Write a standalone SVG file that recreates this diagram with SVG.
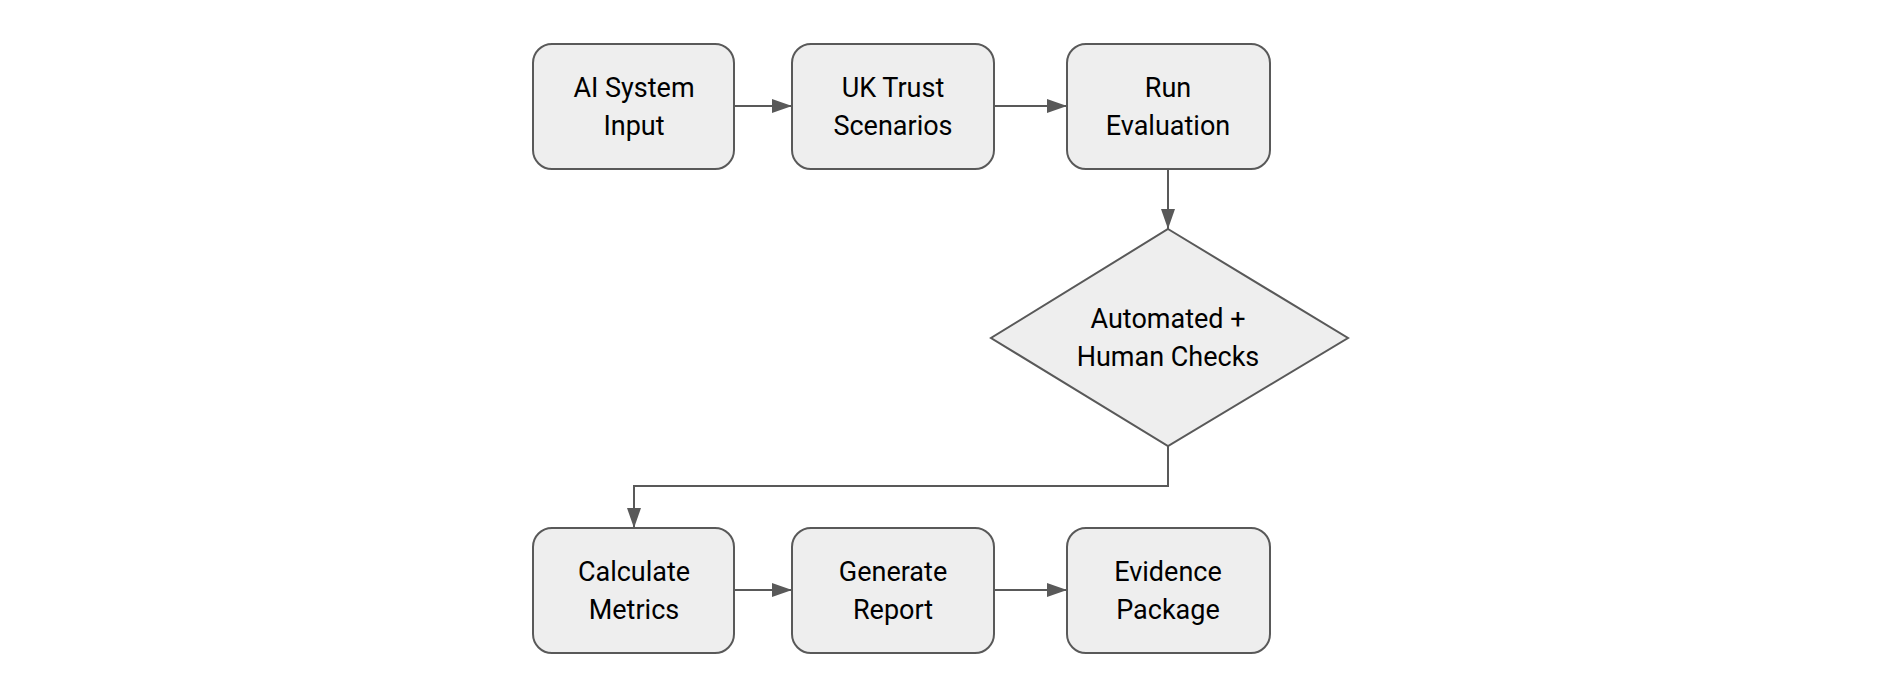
<svg xmlns="http://www.w3.org/2000/svg" width="1878" height="698" viewBox="0 0 1878 698">
<style>
.n{fill:#eeeeee;stroke:#595959;stroke-width:2}
.t{font-family:Roboto,"Liberation Sans",Arial,sans-serif;font-size:27px;fill:#000;text-anchor:middle}
.c{fill:none;stroke:#595959;stroke-width:2}
</style>
<defs><marker id="a" viewBox="0 0 10 10" refX="10" refY="5" markerWidth="10" markerHeight="10" markerUnits="userSpaceOnUse" orient="auto"><path d="M0,0L10,5L0,10z" fill="#595959" transform="scale(1)"/></marker>
<marker id="b" viewBox="0 0 20 14" refX="20" refY="7" markerWidth="20" markerHeight="14" markerUnits="userSpaceOnUse" orient="auto"><path d="M0,0L20,7L0,14z" fill="#595959"/></marker></defs>
<rect width="1878" height="698" fill="#fff"/>
<g id="connectors">
<path class="c" d="M734,106H792" marker-end="url(#b)"/>
<path class="c" d="M994,106H1067" marker-end="url(#b)"/>
<path class="c" d="M1168,169V229" marker-end="url(#b)"/>
<path class="c" d="M1168,446V486H634V528" marker-end="url(#b)"/>
<path class="c" d="M734,590H792" marker-end="url(#b)"/>
<path class="c" d="M994,590H1067" marker-end="url(#b)"/>
</g>
<g id="n1"><rect class="n" x="533" y="44" width="201" height="125" rx="19"/><text class="t" x="634" y="97">AI System</text><text class="t" x="634" y="135">Input</text></g>
<g id="n2"><rect class="n" x="792" y="44" width="202" height="125" rx="19"/><text class="t" x="893" y="97">UK Trust</text><text class="t" x="893" y="135">Scenarios</text></g>
<g id="n3"><rect class="n" x="1067" y="44" width="203" height="125" rx="19"/><text class="t" x="1168" y="97">Run</text><text class="t" x="1168" y="135">Evaluation</text></g>
<g id="n4"><path class="n" d="M1168,229L1348,338L1168,446L991,338z"/><text class="t" x="1168" y="328">Automated +</text><text class="t" x="1168" y="366">Human Checks</text></g>
<g id="n5"><rect class="n" x="533" y="528" width="201" height="125" rx="19"/><text class="t" x="634" y="581">Calculate</text><text class="t" x="634" y="619">Metrics</text></g>
<g id="n6"><rect class="n" x="792" y="528" width="202" height="125" rx="19"/><text class="t" x="893" y="581">Generate</text><text class="t" x="893" y="619">Report</text></g>
<g id="n7"><rect class="n" x="1067" y="528" width="203" height="125" rx="19"/><text class="t" x="1168" y="581">Evidence</text><text class="t" x="1168" y="619">Package</text></g>
</svg>
